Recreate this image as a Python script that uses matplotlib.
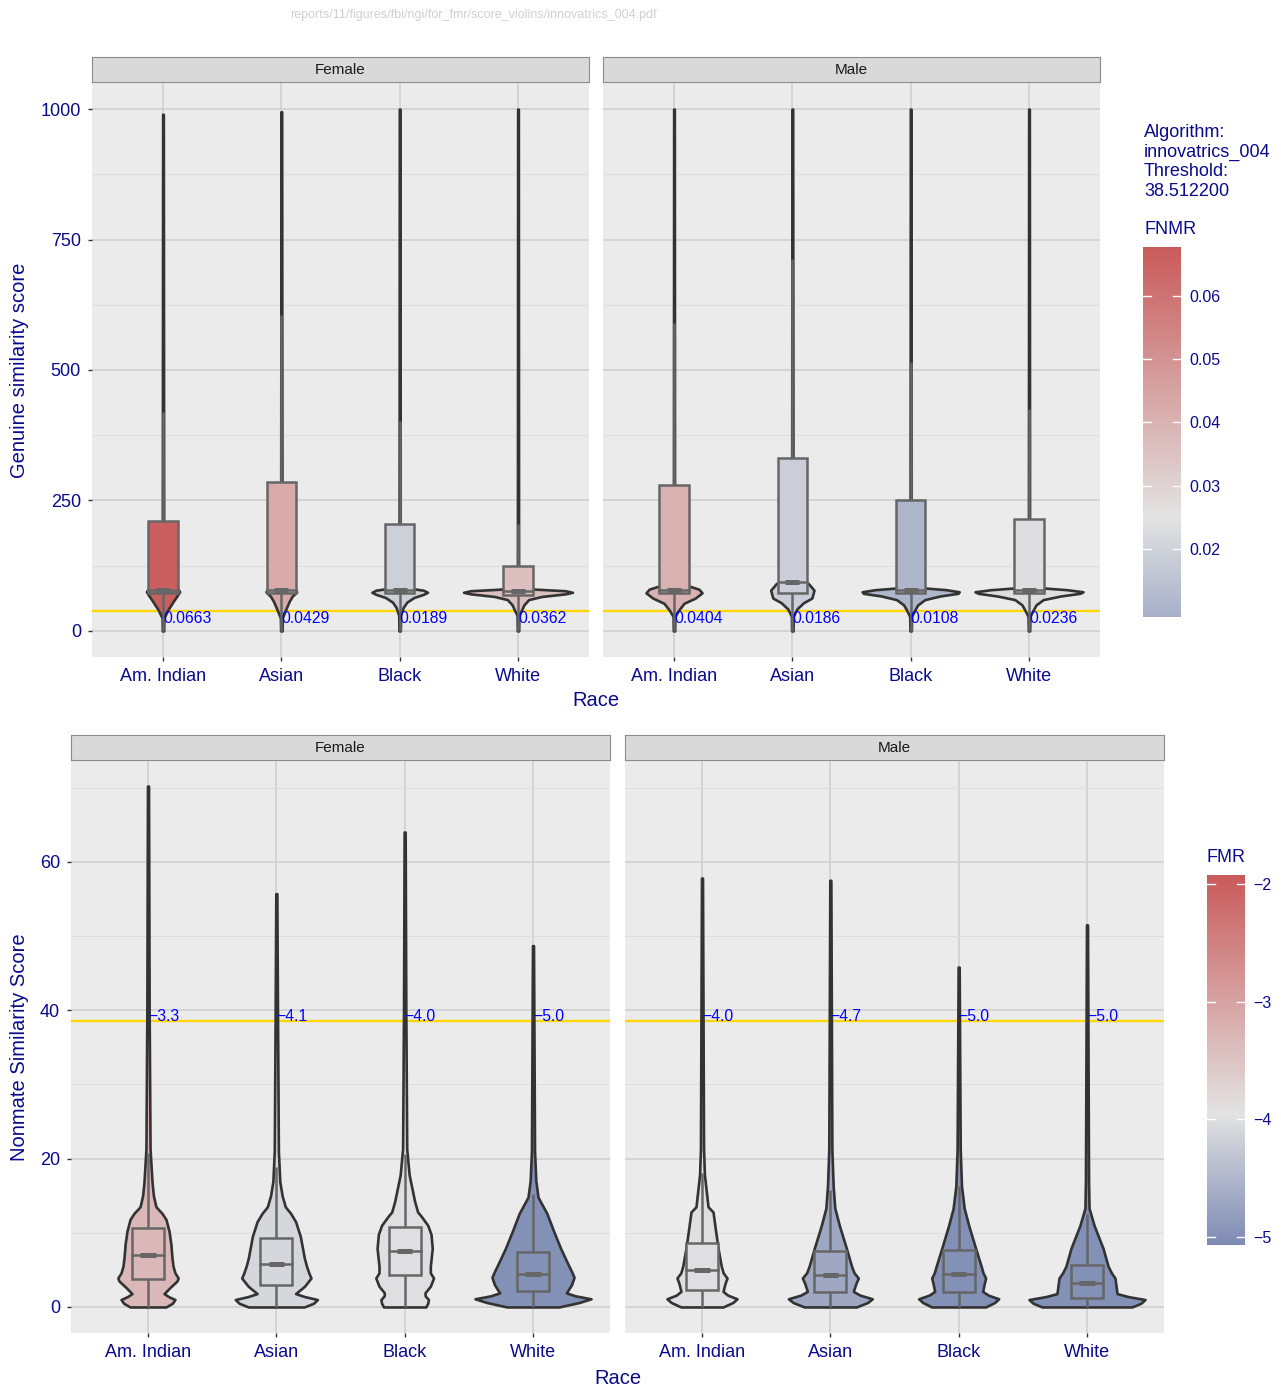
import numpy as np
import matplotlib.pyplot as plt
from matplotlib.colors import LinearSegmentedColormap, TwoSlopeNorm
from matplotlib.patches import Rectangle

plt.rcParams["font.family"] = ["Liberation Sans", "DejaVu Sans"]

# ---- data ----
races = ["Am. Indian", "Asian", "Black", "White"]
sexes = ["Female", "Male"]
threshold = 38.5122
algorithm = "innovatrics_004"
source_path = "reports/11/figures/fbi/ngi/for_fmr/score_violins/innovatrics_004.pdf"

fnmr_female = [0.0663, 0.0429, 0.0189, 0.0362]
fnmr_male = [0.0404, 0.0186, 0.0108, 0.0236]
log_fmr_female = [-3.3, -4.1, -4.0, -5.0]
log_fmr_male = [-4.0, -4.7, -5.0, -5.0]

# genuine scores: box stats (q1, median, q3, upper whisker)
gen_q1_female = [72, 73, 73, 68]
gen_med_female = [78, 79, 78, 77]
gen_q3_female = [211, 286, 205, 124]
gen_whi_female = [419, 605, 403, 205]
gen_q1_male = [73, 73, 73, 73]
gen_med_male = [78, 94, 78, 78]
gen_q3_male = [280, 331, 251, 214]
gen_whi_male = [590, 713, 515, 425]

# genuine violin outlines: (score, half width in category units)
gen_violins_female = [
    [(0, .006), (25, .008), (40, .04), (56, .085), (66, .115), (75, .14), (79, .13), (82, .02), (100, .006), (990, .003)],
    [(0, .006), (25, .008), (40, .035), (56, .065), (66, .09), (75, .13), (79, .12), (82, .02), (100, .006), (600, .004), (995, .003)],
    [(0, .006), (30, .008), (45, .03), (55, .06), (64, .12), (70, .2), (74, .235), (78, .2), (82, .08), (86, .01), (100, .005), (1000, .003)],
    [(0, .006), (30, .008), (40, .03), (50, .05), (60, .09), (66, .2), (71, .4), (74, .46), (77, .4), (80, .15), (83, .02), (100, .005), (1000, .003)],
]
gen_violins_male = [
    [(0, .006), (28, .008), (40, .04), (53, .085), (63, .18), (73, .237), (80, .21), (88, .1), (93, .01), (110, .005), (1000, .003)],
    [(0, .006), (28, .008), (42, .038), (54, .094), (63, .165), (78, .183), (91, .135), (95, .03), (100, .006), (1000, .003)],
    [(0, .006), (28, .008), (40, .035), (50, .06), (60, .12), (67, .25), (72, .4), (75, .41), (79, .3), (83, .08), (87, .01), (100, .005), (1000, .003)],
    [(0, .006), (28, .008), (40, .035), (50, .06), (60, .12), (67, .27), (72, .43), (75, .456), (79, .32), (83, .08), (87, .01), (100, .005), (1000, .003)],
]

# nonmate scores: box stats
imp_q1_female = [3.8, 3.0, 4.25, 2.2]
imp_med_female = [7.0, 5.8, 7.5, 4.4]
imp_q3_female = [10.6, 9.3, 10.8, 7.4]
imp_whi_female = [20.8, 18.8, 20.6, 15.2]
imp_q1_male = [2.3, 2.0, 2.0, 1.2]
imp_med_male = [5.0, 4.25, 4.5, 3.2]
imp_q3_male = [8.6, 7.5, 7.7, 5.7]
imp_whi_male = [18.0, 15.8, 16.3, 12.5]

imp_violins_female = [
    [(0, .14), (0.5, .19), (1.0, .21), (1.4, .16), (1.8, .125), (2.6, .17), (3.5, .226), (3.9, .235), (4.6, .21), (5.5, .195), (6.6, .187), (8.5, .178), (10.2, .164), (11.8, .14), (12.6, .11), (13.5, .062), (15, .042), (16.9, .031), (21.3, .016), (40, .009), (70.2, .004)],
    [(0, .218), (0.5, .29), (1.0, .32), (1.4, .22), (1.8, .15), (2.8, .22), (3.9, .27), (4.5, .255), (5.5, .235), (6.6, .218), (9.5, .187), (11.5, .15), (12.6, .112), (13.5, .07), (15, .045), (16.9, .027), (21, .016), (40, .009), (55.7, .004)],
    [(0, .164), (0.5, .18), (1.0, .185), (1.5, .16), (1.9, .158), (2.8, .2), (3.9, .225), (4.6, .2), (5.5, .2), (7.9, .215), (9.8, .205), (11, .18), (12.2, .13), (12.8, .101), (14.2, .078), (17.8, .035), (21.3, .016), (40, .009), (64.0, .004)],
    [(0, .203), (0.6, .36), (1.1, .452), (1.5, .33), (1.9, .26), (3.0, .3), (4.0, .32), (4.8, .3), (5.5, .28), (7.9, .215), (10.2, .161), (12.6, .108), (14.8, .039), (17, .022), (21, .012), (48.7, .004)],
]
imp_violins_male = [
    [(0, .164), (0.6, .24), (1.1, .273), (1.6, .2), (2.1, .164), (3.2, .18), (3.9, .195), (4.6, .165), (5.5, .15), (7.9, .125), (11, .1), (12.8, .086), (13.5, .047), (17.8, .019), (21.3, .012), (57.8, .004)],
    [(0, .203), (0.6, .29), (1.1, .327), (1.6, .23), (2.1, .179), (3.2, .2), (3.9, .218), (4.6, .185), (5.5, .165), (7.9, .125), (11, .07), (13.3, .035), (16.3, .022), (21.3, .012), (57.5, .004)],
    [(0, .21), (0.6, .28), (1.1, .312), (1.6, .23), (2.1, .187), (3.2, .2), (3.9, .21), (4.6, .19), (5.5, .175), (7.9, .132), (11, .078), (13.3, .043), (16.3, .022), (21.3, .012), (45.8, .004)],
    [(0, .35), (0.5, .42), (1.0, .452), (1.4, .32), (1.8, .234), (3.0, .225), (3.9, .218), (4.6, .19), (5.5, .164), (7.9, .125), (11, .055), (13.3, .016), (17, .012), (51.5, .004)],
]

# ---- styling ----
W, H = 1281, 1389
navy = "#0A0A8C"
panel_bg = "#EBEBEB"
grid_major = "#D0D0D0"
grid_minor = "#DDDDDD"
box_edge = "#666666"
violin_edge = "#333333"

fnmr_cmap = LinearSegmentedColormap.from_list("fnmr", ["#A8B1C9", "#E3E3E3", "#CA5B5B"])
fnmr_norm = TwoSlopeNorm(vmin=0.0093, vcenter=0.025, vmax=0.0677)
fmr_cmap = LinearSegmentedColormap.from_list("fmr", ["#7E8BB4", "#E3E3E3", "#CA5B5B"])
fmr_norm = TwoSlopeNorm(vmin=-5.07, vcenter=-3.95, vmax=-1.92)


def fig_rect(x0, y0, x1, y1):
    return [x0 / W, 1 - y1 / H, (x1 - x0) / W, (y1 - y0) / H]


def add_strip(fig, x0, x1, y0, y1, label):
    sax = fig.add_axes(fig_rect(x0, y0, x1, y1))
    sax.set_facecolor("#D9D9D9")
    for s in sax.spines.values():
        s.set_color("#8C8C8C")
        s.set_linewidth(0.8)
    sax.set_xticks([])
    sax.set_yticks([])
    sax.text(0.5, 0.5, label, ha="center", va="center", fontsize=11, color="#1A1A1A",
             transform=sax.transAxes)


def draw_panel(ax, profiles, q1, med, q3, whi, values, cmap, norm, ylim, major, minor,
               labels, label_va, show_yticks):
    ax.set_facecolor(panel_bg)
    for s in ax.spines.values():
        s.set_visible(False)
    xs = np.arange(1, len(races) + 1)
    ax.set_xlim(0.4, len(races) + 0.6)
    ax.set_ylim(*ylim)
    ax.set_xticks(xs)
    ax.set_xticklabels(races)
    ax.set_yticks(major)
    ax.set_yticks(minor, minor=True)
    ax.grid(which="major", color=grid_major, lw=1.2, zorder=0)
    ax.grid(which="minor", axis="y", color=grid_minor, lw=0.7, zorder=0)
    ax.set_axisbelow(True)
    ax.tick_params(which="major", length=3, width=1, color="#333333", labelcolor=navy,
                   labelsize=13, pad=5)
    ax.tick_params(axis="y", pad=5)
    ax.tick_params(which="minor", length=0)
    if not show_yticks:
        ax.tick_params(axis="y", length=0, labelleft=False)

    ax.axhline(threshold, color="#FFD700", lw=1.7, zorder=1)
    bw = 0.25
    for i, x in enumerate(xs):
        col = cmap(norm(values[i]))
        ys = np.array([p[0] for p in profiles[i]])
        hw = np.array([p[1] for p in profiles[i]])
        ax.fill_betweenx(ys, x - hw, x + hw, facecolor=col, edgecolor=violin_edge,
                         lw=1.9, zorder=2, joinstyle="round")
        ax.plot([x, x], [ys[0], q1[i]], color=box_edge, lw=1.8, zorder=3,
                solid_capstyle="butt")
        ax.plot([x, x], [q3[i], whi[i]], color=box_edge, lw=1.8, zorder=3,
                solid_capstyle="butt")
        ax.add_patch(Rectangle((x - bw / 2, q1[i]), bw, q3[i] - q1[i], facecolor=col,
                               edgecolor=box_edge, lw=1.8, zorder=3))
        ax.plot([x - bw / 2, x + bw / 2], [med[i], med[i]], color=box_edge, lw=1.8, zorder=4)
        ax.plot([x - bw * 0.24, x + bw * 0.24], [med[i], med[i]], color=box_edge, lw=3.6,
                zorder=4, solid_capstyle="butt")
        ax.text(x, threshold, labels[i], ha="left", va=label_va, fontsize=11.3,
                color="#0000FF", zorder=5)


def add_colorbar(fig, rect, cmap, norm, ticks, ticklabels):
    cax = fig.add_axes(rect)
    grad = np.linspace(norm.vmin, norm.vmax, 300).reshape(-1, 1)
    cax.imshow(grad, aspect="auto", cmap=cmap, norm=norm, origin="lower",
               extent=[0, 1, norm.vmin, norm.vmax])
    cax.set_xlim(0, 1)
    cax.set_ylim(norm.vmin, norm.vmax)
    for t in ticks:
        cax.plot([0, 0.2], [t, t], color="white", lw=1)
        cax.plot([0.8, 1], [t, t], color="white", lw=1)
    for s in cax.spines.values():
        s.set_visible(False)
    cax.set_xticks([])
    cax.yaxis.tick_right()
    cax.set_yticks(ticks)
    cax.set_yticklabels(ticklabels)
    cax.tick_params(axis="y", length=0, pad=6, labelsize=11.5, labelcolor=navy)


fig = plt.figure(figsize=(W / 100, H / 100), dpi=100)
fig.patch.set_facecolor("white")

fig.text(473 / W, 1 - 15 / H, source_path, ha="center", va="center", fontsize=9,
         color="#D0D0D0")

# ---- top: genuine scores ----
gen_major = [0, 250, 500, 750, 1000]
gen_minor = [125, 375, 625, 875]
top_panels = [(92, 589), (603, 1100)]
gen_profiles = [gen_violins_female, gen_violins_male]
gen_stats = [(gen_q1_female, gen_med_female, gen_q3_female, gen_whi_female),
             (gen_q1_male, gen_med_male, gen_q3_male, gen_whi_male)]
fnmr_vals = [fnmr_female, fnmr_male]
for k, (x0, x1) in enumerate(top_panels):
    ax = fig.add_axes(fig_rect(x0, 83, x1, 657))
    q1, med, q3, whi = gen_stats[k]
    draw_panel(ax, gen_profiles[k], q1, med, q3, whi, fnmr_vals[k], fnmr_cmap, fnmr_norm,
               (-50, 1050), gen_major, gen_minor, ["%.4f" % v for v in fnmr_vals[k]], "top",
               k == 0)
    add_strip(fig, x0, x1, 57, 82, sexes[k])

fig.text(20 / W, 1 - 370 / H, "Genuine similarity score", rotation=90, ha="center",
         va="center", fontsize=14.5, color=navy)
fig.text(596 / W, 1 - 700 / H, "Race", ha="center", va="center", fontsize=14.5, color=navy)

fig.text(1144 / W, 1 - 124 / H, "Algorithm:\n%s\nThreshold:\n%f" % (algorithm, threshold),
         ha="left", va="top", fontsize=13, color=navy, linespacing=1.2)
fig.text(1144 / W, 1 - 230 / H, "FNMR", ha="left", va="center", fontsize=13, color=navy)
add_colorbar(fig, fig_rect(1143, 247, 1181, 617), fnmr_cmap, fnmr_norm,
             [0.02, 0.03, 0.04, 0.05, 0.06], ["0.02", "0.03", "0.04", "0.05", "0.06"])

# ---- bottom: nonmate scores ----
imp_major = [0, 20, 40, 60]
imp_minor = [10, 30, 50, 70]
bottom_panels = [(71, 610), (625, 1164)]
imp_profiles = [imp_violins_female, imp_violins_male]
imp_stats = [(imp_q1_female, imp_med_female, imp_q3_female, imp_whi_female),
             (imp_q1_male, imp_med_male, imp_q3_male, imp_whi_male)]
fmr_vals = [log_fmr_female, log_fmr_male]
for k, (x0, x1) in enumerate(bottom_panels):
    ax = fig.add_axes(fig_rect(x0, 760, x1, 1333))
    q1, med, q3, whi = imp_stats[k]
    draw_panel(ax, imp_profiles[k], q1, med, q3, whi, fmr_vals[k], fmr_cmap, fmr_norm,
               (-3.51, 73.71), imp_major, imp_minor,
               [("%.1f" % v).replace("-", "\u2212") for v in fmr_vals[k]], "baseline", k == 0)
    add_strip(fig, x0, x1, 735, 760, sexes[k])

fig.text(20 / W, 1 - 1047 / H, "Nonmate Similarity Score", rotation=90, ha="center",
         va="center", fontsize=14.5, color=navy)
fig.text(618 / W, 1 - 1378 / H, "Race", ha="center", va="center", fontsize=14.5, color=navy)

fig.text(1207 / W, 1 - 858 / H, "FMR", ha="left", va="center", fontsize=13, color=navy)
add_colorbar(fig, fig_rect(1207, 875, 1245, 1245), fmr_cmap, fmr_norm,
             [-5, -4, -3, -2], ["\u22125", "\u22124", "\u22123", "\u22122"])

fig.savefig("out.png", dpi=100)
